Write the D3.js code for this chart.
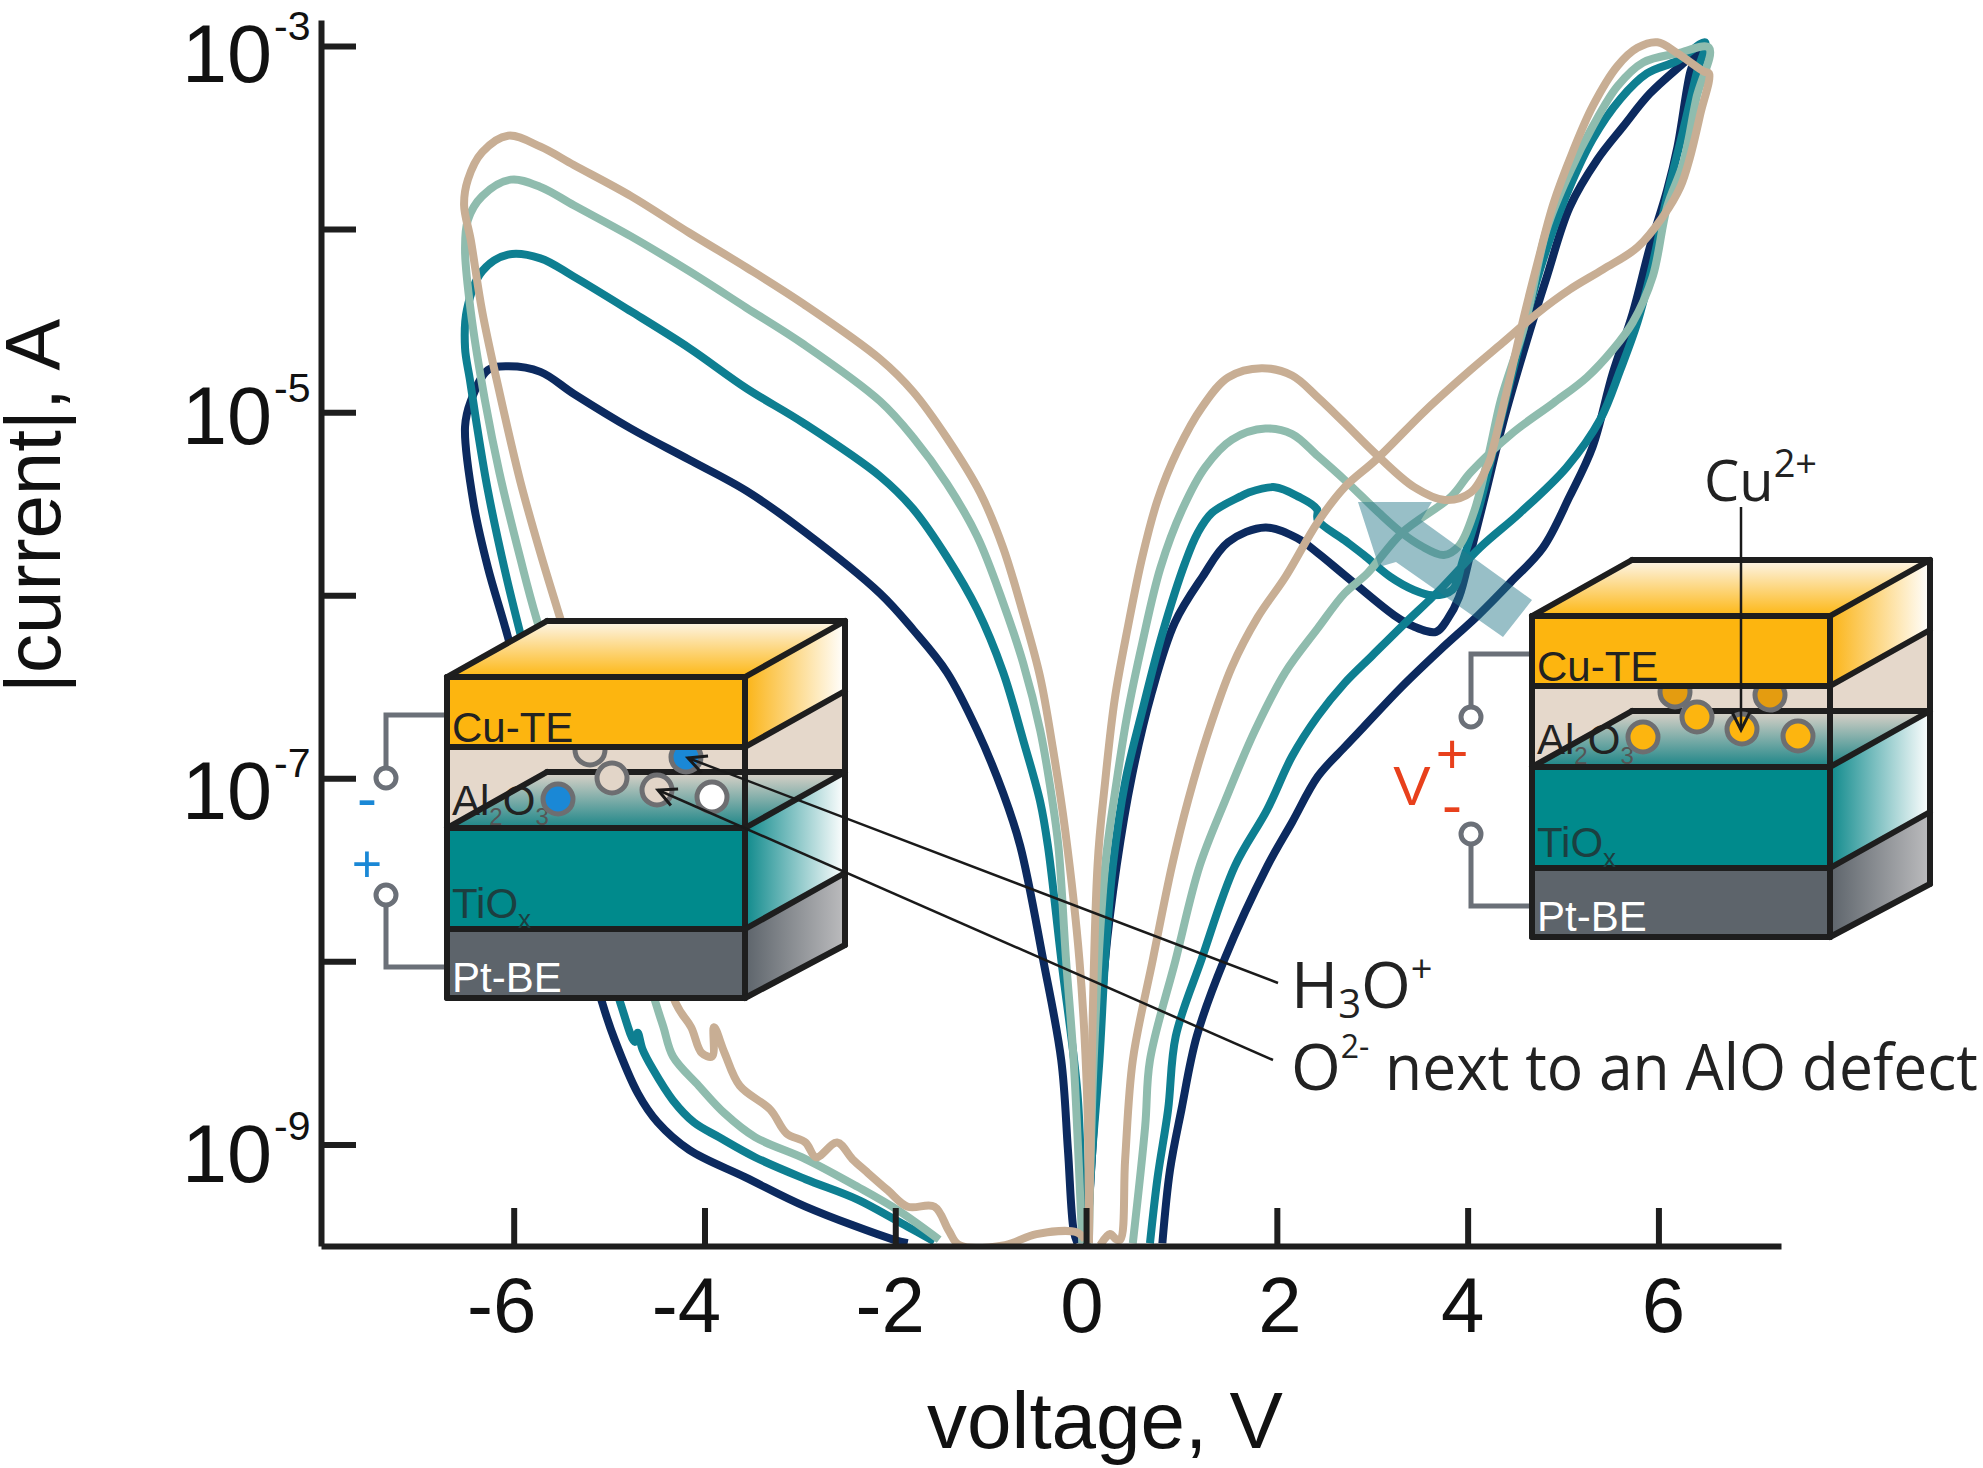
<!DOCTYPE html>
<html>
<head>
<meta charset="utf-8">
<script src="https://cdn.jsdelivr.net/npm/d3@7"></script>
<style>
  body { margin: 0; background: #fff; }
  text { font-family: "Liberation Sans", Arial, sans-serif; }
  .label2 { font-family: "Open Sans", sans-serif; fill: #222; }
</style>
</head>
<body>
<div id="chart"></div>
<script>
// all curves: [voltage in V, log10 of |current| in A]
var navyLeft = [[-0.09,-9.54],[-0.13,-9.47],[-0.19,-9.03],[-0.26,-8.54],[-0.45,-7.99],[-0.69,-7.37],[-0.87,-7.08],[-1.14,-6.74],[-1.46,-6.42],[-1.81,-6.19],[-2.16,-5.99],[-2.96,-5.65],[-3.56,-5.43],[-4.16,-5.26],[-4.77,-5.09],[-5.37,-4.90],[-5.72,-4.78],[-6.06,-4.75],[-6.27,-4.77],[-6.45,-4.94],[-6.51,-5.08],[-6.42,-5.50],[-6.27,-5.85],[-6.06,-6.23],[-5.57,-7.23],[-5.07,-8.23],[-4.94,-8.43],[-4.70,-8.72],[-4.49,-8.88],[-4.16,-9.03],[-3.57,-9.18],[-2.94,-9.34],[-2.02,-9.52],[-1.87,-9.54]];
var navyRight = [[0.01,-9.54],[0.06,-9.08],[0.20,-7.99],[0.32,-7.48],[0.48,-6.99],[0.69,-6.53],[0.93,-6.15],[1.22,-5.90],[1.49,-5.71],[1.88,-5.63],[2.22,-5.69],[2.43,-5.77],[2.71,-5.89],[3.23,-6.11],[3.43,-6.17],[3.67,-6.20],[3.79,-6.13],[3.91,-6.01],[4.04,-5.75],[4.19,-5.44],[4.37,-5.06],[4.62,-4.61],[4.83,-4.26],[5.07,-3.88],[5.36,-3.62],[5.63,-3.44],[5.91,-3.26],[6.27,-3.09],[6.40,-3.03],[6.33,-3.15],[6.20,-3.55],[6.09,-3.79],[5.91,-4.10],[5.73,-4.46],[5.52,-4.79],[5.31,-5.19],[5.07,-5.46],[4.79,-5.74],[4.45,-5.93],[4.11,-6.11],[3.71,-6.30],[3.31,-6.50],[2.91,-6.72],[2.71,-6.83],[2.43,-6.99],[2.16,-7.24],[1.90,-7.48],[1.45,-7.99],[1.16,-8.41],[1.00,-8.81],[0.88,-9.14],[0.80,-9.54]];

var tealLeft = [[0.01,-9.54],[-0.02,-9.48],[-0.09,-8.72],[-0.26,-7.99],[-0.40,-7.37],[-0.48,-7.13],[-0.66,-6.79],[-0.87,-6.42],[-1.14,-6.08],[-1.46,-5.79],[-1.81,-5.53],[-2.16,-5.35],[-2.96,-5.06],[-3.56,-4.87],[-4.16,-4.65],[-4.77,-4.45],[-5.37,-4.26],[-5.72,-4.16],[-6.06,-4.14],[-6.33,-4.23],[-6.49,-4.44],[-6.51,-4.65],[-6.46,-4.82],[-6.39,-5.06],[-6.27,-5.43],[-6.09,-5.87],[-5.93,-6.21],[-5.41,-7.23],[-4.88,-8.23],[-4.73,-8.44],[-4.70,-8.39],[-4.65,-8.48],[-4.54,-8.59],[-4.33,-8.76],[-4.11,-8.88],[-3.85,-8.96],[-3.47,-9.07],[-2.94,-9.19],[-2.40,-9.30],[-1.87,-9.45],[-1.59,-9.53]];
var tealRight = [[0.01,-9.54],[0.06,-9.08],[0.14,-8.54],[0.20,-7.99],[0.28,-7.48],[0.41,-7.02],[0.59,-6.63],[0.80,-6.21],[1.04,-5.82],[1.17,-5.66],[1.32,-5.55],[1.62,-5.46],[1.70,-5.44],[1.98,-5.41],[2.22,-5.46],[2.42,-5.53],[2.43,-5.59],[2.71,-5.70],[2.91,-5.78],[3.19,-5.90],[3.43,-5.97],[3.63,-6.00],[3.84,-5.97],[3.95,-5.81],[4.11,-5.54],[4.31,-5.12],[4.53,-4.66],[4.76,-4.22],[5.00,-3.86],[5.31,-3.51],[5.60,-3.29],[5.88,-3.15],[6.20,-3.08],[6.49,-2.98],[6.40,-3.15],[6.26,-3.46],[6.09,-3.82],[5.94,-4.19],[5.78,-4.51],[5.60,-4.77],[5.39,-5.04],[5.04,-5.30],[4.55,-5.55],[4.13,-5.74],[3.71,-5.97],[3.31,-6.17],[3.00,-6.33],[2.71,-6.48],[2.43,-6.66],[2.16,-6.88],[1.90,-7.17],[1.56,-7.48],[1.21,-7.99],[0.94,-8.41],[0.86,-8.81],[0.75,-9.18],[0.67,-9.54]];

var foamLeft = [[-0.04,-9.54],[-0.06,-9.30],[-0.13,-8.54],[-0.21,-7.99],[-0.29,-7.37],[-0.36,-7.10],[-0.48,-6.74],[-0.66,-6.37],[-0.87,-6.04],[-1.14,-5.68],[-1.46,-5.39],[-1.81,-5.14],[-2.16,-4.94],[-2.96,-4.63],[-3.56,-4.43],[-4.16,-4.23],[-4.77,-4.04],[-5.37,-3.87],[-5.72,-3.77],[-6.03,-3.73],[-6.33,-3.82],[-6.48,-3.95],[-6.51,-4.11],[-6.45,-4.45],[-6.30,-4.94],[-6.15,-5.33],[-5.93,-5.80],[-5.76,-6.13],[-5.10,-7.20],[-4.51,-8.23],[-4.43,-8.36],[-4.33,-8.52],[-4.06,-8.68],[-3.79,-8.83],[-3.47,-8.96],[-2.94,-9.08],[-2.40,-9.23],[-1.97,-9.36],[-1.54,-9.52]];
var foamRight = [[0.03,-9.54],[0.08,-8.54],[0.20,-7.48],[0.32,-7.02],[0.43,-6.66],[0.59,-6.26],[0.78,-5.85],[1.01,-5.53],[1.25,-5.30],[1.53,-5.15],[1.88,-5.09],[2.16,-5.12],[2.43,-5.24],[2.71,-5.37],[3.07,-5.55],[3.31,-5.66],[3.51,-5.73],[3.75,-5.78],[3.91,-5.73],[4.07,-5.54],[4.23,-5.21],[4.35,-4.93],[4.60,-4.52],[4.83,-4.00],[5.07,-3.69],[5.31,-3.44],[5.57,-3.22],[5.84,-3.09],[6.20,-3.04],[6.53,-3.01],[6.40,-3.28],[6.26,-3.64],[6.09,-3.88],[5.94,-4.26],[5.73,-4.51],[5.52,-4.66],[5.25,-4.81],[4.90,-4.95],[4.48,-5.11],[4.03,-5.33],[3.83,-5.46],[3.31,-5.66],[2.95,-5.88],[2.71,-5.99],[2.43,-6.18],[2.09,-6.42],[1.77,-6.74],[1.46,-7.12],[1.19,-7.48],[0.94,-7.99],[0.67,-8.54],[0.62,-8.90],[0.49,-9.54]];

var tanLeft = [[0.03,-9.54],[0.01,-8.72],[-0.07,-7.99],[-0.22,-7.28],[-0.35,-6.83],[-0.48,-6.45],[-0.66,-6.10],[-0.87,-5.74],[-1.11,-5.44],[-1.46,-5.14],[-1.81,-4.89],[-2.16,-4.71],[-2.96,-4.41],[-3.56,-4.21],[-4.16,-4.02],[-4.77,-3.82],[-5.37,-3.65],[-5.72,-3.55],[-6.06,-3.49],[-6.33,-3.58],[-6.48,-3.73],[-6.52,-3.87],[-6.45,-4.06],[-6.33,-4.45],[-6.15,-4.89],[-5.93,-5.38],[-5.72,-5.77],[-5.51,-6.13],[-4.88,-7.20],[-4.30,-8.23],[-4.14,-8.36],[-4.03,-8.50],[-3.92,-8.52],[-3.90,-8.36],[-3.79,-8.50],[-3.63,-8.68],[-3.31,-8.81],[-3.14,-8.94],[-2.94,-8.99],[-2.83,-9.07],[-2.61,-8.99],[-2.45,-9.08],[-2.30,-9.15],[-2.08,-9.25],[-1.87,-9.34],[-1.59,-9.34],[-1.44,-9.47],[-1.33,-9.55],[-0.85,-9.55],[-0.52,-9.49],[-0.10,-9.48],[-0.01,-9.52]];
var tanRight = [[0.03,-9.54],[0.12,-7.48],[0.20,-7.02],[0.30,-6.57],[0.44,-6.17],[0.59,-5.79],[0.75,-5.48],[0.96,-5.21],[1.22,-4.97],[1.49,-4.81],[1.84,-4.76],[2.16,-4.80],[2.43,-4.92],[2.71,-5.06],[3.04,-5.23],[3.44,-5.41],[3.76,-5.48],[4.03,-5.44],[4.22,-5.28],[4.27,-5.19],[4.44,-4.82],[4.58,-4.50],[4.73,-4.19],[4.90,-3.86],[5.10,-3.58],[5.31,-3.33],[5.57,-3.11],[5.78,-3.01],[5.99,-2.98],[6.20,-3.04],[6.48,-3.14],[6.53,-3.15],[6.44,-3.37],[6.33,-3.61],[6.23,-3.77],[6.05,-3.93],[5.78,-4.10],[5.42,-4.22],[5.07,-4.33],[4.73,-4.46],[4.37,-4.62],[4.03,-4.77],[3.56,-4.99],[3.04,-5.26],[2.71,-5.41],[2.43,-5.60],[2.09,-5.90],[1.80,-6.12],[1.53,-6.39],[1.28,-6.75],[1.07,-7.12],[0.90,-7.48],[0.70,-7.99],[0.49,-8.54],[0.41,-9.08],[0.36,-9.52],[0.32,-9.52],[0.25,-9.49],[0.15,-9.55]];

var xTickValues = [-6, -4, -2, 0, 2, 4, 6];
var xTickLabels = ["-6", "-4", "-2", "0", "2", "4", "6"];
var yTickValues = [1e-3, 1e-4, 1e-5, 1e-6, 1e-7, 1e-8, 1e-9];
var yLabelValues = [1e-3, 1e-5, 1e-7, 1e-9];
var yLabelExponents = ["-3", "-5", "-7", "-9"];

var width = 1983, height = 1468;
var black = "#1e1e1e";
// the labels in the figure do not sit quite regular on their ticks
var xLabelShift = [-12, -18, -5, -4, 3, -5, 5];
var yLabelShift = [36, 32, 41, 38];

var svg = d3.select("#chart").append("svg")
    .attr("width", width)
    .attr("height", height)
    .style("display", "block");

svg.append("rect").attr("width", width).attr("height", height).attr("fill", "#fff");

var defs = svg.append("defs");

function gradient(id, x2, y2, stops) {
    var g = defs.append("linearGradient").attr("id", id)
        .attr("x1", 0).attr("y1", 0).attr("x2", x2).attr("y2", y2);
    stops.forEach(function (s) {
        g.append("stop").attr("offset", s[0]).attr("stop-color", s[1]);
    });
}
gradient("gradCuTop", 0, 1, [[0, "#fdf6ea"], [1, "#fdb714"]]);
gradient("gradCuSide", 1, 0, [[0, "#fbb416"], [1, "#ffffff"]]);
gradient("gradPlane", 0, 1, [[0, "#ddd3c9"], [1, "#1b8587"]]);
gradient("gradTiSide", 1, 0, [[0, "#0f8a8c"], [1, "#ffffff"]]);
gradient("gradPtSide", 1, 0, [[0, "#5d646b"], [1, "#bcbcbe"]]);

defs.append("clipPath").attr("id", "plotClip").append("rect")
    .attr("x", 321).attr("y", 0).attr("width", 1500).attr("height", 1246);

var arrowHead = defs.append("marker")
    .attr("id", "openArrow")
    .attr("viewBox", "-22 -12 26 24")
    .attr("refX", 0).attr("refY", 0)
    .attr("markerUnits", "userSpaceOnUse")
    .attr("markerWidth", 26).attr("markerHeight", 24)
    .attr("orient", "auto");
arrowHead.append("path")
    .attr("d", "M-18,-9L0,0L-18,9")
    .attr("fill", "none").attr("stroke", "#1a1a1a").attr("stroke-width", 3);

// scales
var x = d3.scaleLinear().domain([-8.02, 7.285]).range([321, 1781]);
var y = d3.scaleLog().domain([Math.pow(10, -9.555), Math.pow(10, -2.858)]).range([1246, 20]);

// curves, darkest first
var line = d3.line()
    .x(function (d) { return x(d[0]); })
    .y(function (d) { return y(Math.pow(10, d[1])); })
    .curve(d3.curveCatmullRom.alpha(0.5));

var curves = svg.append("g").attr("clip-path", "url(#plotClip)");
var seriesList = [
    [navyLeft, "#0c2a5f"], [navyRight, "#0c2a5f"],
    [tealLeft, "#0e7f91"], [tealRight, "#0e7f91"],
    [foamLeft, "#8fbcae"], [foamRight, "#8fbcae"],
    [tanLeft, "#c8ae94"], [tanRight, "#c8ae94"]
];
seriesList.forEach(function (s) {
    curves.append("path")
        .datum(s[0])
        .attr("d", line)
        .attr("fill", "none")
        .attr("stroke", s[1])
        .attr("stroke-width", 8)
        .attr("stroke-linejoin", "round");
});

// big translucent arrow across the dip
svg.append("polygon")
    .attr("points", "1358,502 1432,502 1421,520 1532,600 1503,637 1396,562 1379,567")
    .attr("fill", "#27798a")
    .attr("fill-opacity", 0.48);

// axes
var xAxis = svg.append("g")
    .attr("transform", "translate(0,1246)")
    .call(d3.axisBottom(x).tickValues(xTickValues).tickSize(-38).tickSizeOuter(0).tickFormat(""));
var yAxis = svg.append("g")
    .attr("transform", "translate(321,0)")
    .call(d3.axisRight(y).tickValues(yTickValues).tickSize(35).tickSizeOuter(0).tickFormat(""));
[xAxis, yAxis].forEach(function (a) {
    a.selectAll("path").attr("stroke", black).attr("stroke-width", 6);
    a.selectAll("line").attr("stroke", black).attr("stroke-width", 6);
});

// x tick labels
xTickValues.forEach(function (v, i) {
    svg.append("text")
        .attr("x", x(v) + xLabelShift[i])
        .attr("y", 1332)
        .attr("text-anchor", "middle")
        .attr("font-size", 78)
        .attr("fill", "#111")
        .text(xTickLabels[i]);
});

// y tick labels
yLabelValues.forEach(function (v, i) {
    var t = svg.append("text")
        .attr("x", 182)
        .attr("y", y(v) + yLabelShift[i])
        .attr("font-size", 81)
        .attr("fill", "#111");
    t.append("tspan").text("10");
    t.append("tspan").attr("font-size", 41).attr("dy", -42).attr("dx", 2).text(yLabelExponents[i]);
});

svg.append("text")
    .attr("transform", "translate(60,506) rotate(-90)")
    .attr("text-anchor", "middle")
    .attr("font-size", 78)
    .attr("fill", "#111")
    .text("|current|, A");

svg.append("text")
    .attr("x", 1105)
    .attr("y", 1448)
    .attr("text-anchor", "middle")
    .attr("font-size", 80)
    .attr("fill", "#111")
    .text("voltage, V");

// the little layer stack, drawn at x0,y0 (front top left corner)
function drawDevice(x0, y0, fills) {
    var g = svg.append("g").attr("transform", "translate(" + x0 + "," + y0 + ")");
    var w = 298, dx = 100, dy = -56;
    var yCu = 70, yAl = 151, yTi = 252, yPt = 321;

    function poly(points, fill) {
        return g.append("polygon").attr("points", points.join(" ")).attr("fill", fill);
    }
    function seg(x1, y1, x2, y2) {
        g.append("line").attr("x1", x1).attr("y1", y1).attr("x2", x2).attr("y2", y2)
            .attr("stroke", black).attr("stroke-width", 6).attr("stroke-linecap", "round");
    }

    // wires to the terminals
    var wire = "#6b7078";
    g.append("path").attr("d", "M0,38H-61V101").attr("fill", "none").attr("stroke", wire).attr("stroke-width", 5);
    g.append("path").attr("d", "M0,290H-61V218").attr("fill", "none").attr("stroke", wire).attr("stroke-width", 5);
    [101, 218].forEach(function (cy) {
        g.append("circle").attr("cx", -61).attr("cy", cy).attr("r", 10)
            .attr("fill", "#fff").attr("stroke", wire).attr("stroke-width", 5);
    });

    // front faces
    g.append("rect").attr("y", yCu).attr("width", w).attr("height", yAl - yCu).attr("fill", "#e5d8cb");
    g.append("rect").attr("y", yAl).attr("width", w).attr("height", yTi - yAl).attr("fill", "#008a8c");
    g.append("rect").attr("y", yTi).attr("width", w).attr("height", yPt - yTi).attr("fill", "#5d646b");

    // side faces
    poly([[w, 0], [w + dx, dy], [w + dx, yCu + dy], [w, yCu]], "url(#gradCuSide)");
    poly([[w, yCu], [w + dx, yCu + dy], [w + dx, yAl + dy], [w, yAl]], "#e5d8cb");
    poly([[w, yAl], [w + dx, yAl + dy], [w + dx, yTi + dy], [w, yTi]], "url(#gradTiSide)");
    poly([[w, yTi], [w + dx, yTi + dy], [w + dx, yPt + dy + 3], [w, yPt]], "url(#gradPtSide)");
    poly([[0, 0], [dx, dy], [w + dx, dy], [w, 0]], "url(#gradCuTop)");

    // sloped plane between Al2O3 and TiOx
    poly([[0, yAl], [dx, yAl + dy], [w + dx, yAl + dy], [w, yAl]], "url(#gradPlane)");
    seg(dx, yAl + dy, w + dx, yAl + dy);

    var al = g.append("text").attr("x", 5).attr("y", 138).attr("font-size", 42).attr("fill", "#222");
    al.append("tspan").text("Al");
    al.append("tspan").attr("font-size", 24).attr("dy", 10).attr("fill", "#555").text("2");
    al.append("tspan").attr("dy", -10).text("O");
    al.append("tspan").attr("font-size", 24).attr("dy", 10).attr("fill", "#555").text("3");
    seg(0, yAl, dx, yAl + dy);

    // ions
    fills.forEach(function (f) {
        g.append("circle").attr("cx", f[0]).attr("cy", f[1]).attr("r", 15)
            .attr("fill", f[2]).attr("stroke", "#6d6e71").attr("stroke-width", 5);
    });

    // Cu electrode goes over the two half hidden ions
    g.append("rect").attr("width", w).attr("height", yCu).attr("fill", "#fdb50f");

    // box outline
    seg(0, 0, w, 0); seg(0, yCu, w, yCu); seg(0, yAl, w, yAl); seg(0, yTi, w, yTi); seg(0, yPt, w, yPt);
    seg(0, 0, 0, yPt); seg(w, 0, w, yPt);
    seg(0, 0, dx, dy); seg(dx, dy, w + dx, dy); seg(w + dx, dy, w, 0);
    seg(w + dx, dy, w + dx, yPt + dy + 3);
    seg(w, yCu, w + dx, yCu + dy); seg(w, yAl, w + dx, yAl + dy);
    seg(w, yTi, w + dx, yTi + dy); seg(w, yPt, w + dx, yPt + dy + 3);

    g.append("text").attr("x", 5).attr("y", 65).attr("font-size", 42).attr("fill", "#222").text("Cu-TE");
    var ti = g.append("text").attr("x", 5).attr("y", 241).attr("font-size", 42).attr("fill", "#1c3f40");
    ti.append("tspan").text("TiO");
    ti.append("tspan").attr("font-size", 26).attr("dy", 10).text("x");
    g.append("text").attr("x", 5).attr("y", 315).attr("font-size", 42).attr("fill", "#fff").text("Pt-BE");
}

var tanFill = "#e2d5c8", blueFill = "#1a88d6", orangeFill = "#fdb50f", darkOrange = "#e49c10";
drawDevice(447, 677, [
    [143, 73, tanFill], [239, 80, blueFill],
    [111, 122, blueFill], [165, 101, tanFill], [210, 113, tanFill], [265, 120, "#fff"]
]);
drawDevice(1532, 616, [
    [143, 76, darkOrange], [238, 79, darkOrange],
    [111, 121, orangeFill], [165, 101, orangeFill], [210, 113, orangeFill], [266, 120, orangeFill]
]);

// polarity marks
function mark(txt, px, py, size, color) {
    svg.append("text").attr("x", px).attr("y", py)
        .attr("text-anchor", "middle").attr("font-size", size).attr("fill", color).text(txt);
}
mark("-", 367, 818, 60, "#1a88d6");
mark("+", 367, 882, 52, "#1a88d6");
mark("V", 1412, 805, 56, "#e8401c");
mark("+", 1452, 773, 56, "#e8401c");
mark("-", 1452, 825, 60, "#e8401c");

// leader lines
function leader(x1, y1, x2, y2) {
    svg.append("line").attr("x1", x1).attr("y1", y1).attr("x2", x2).attr("y2", y2)
        .attr("stroke", "#1a1a1a").attr("stroke-width", 2.5)
        .attr("marker-end", "url(#openArrow)");
}
leader(1278, 983, 688, 758);
leader(1273, 1060, 658, 790);
leader(1741, 507, 1741, 730);

// ion labels
var h3o = svg.append("text").attr("class", "label2").attr("x", 1291).attr("y", 1008).attr("font-size", 64);
h3o.append("tspan").text("H");
h3o.append("tspan").attr("font-size", 40).attr("dy", 10).text("3");
h3o.append("tspan").attr("dy", -10).text("O");
h3o.append("tspan").attr("font-size", 38).attr("dy", -26).text("+");

var o2 = svg.append("text").attr("class", "label2").attr("x", 1291).attr("y", 1090).attr("font-size", 64);
o2.append("tspan").text("O");
o2.append("tspan").attr("font-size", 32).attr("dy", -32).text("2-");

// the original face is narrower than Open Sans, squeeze to the same length
var nextTo = svg.append("text").attr("class", "label2")
    .attr("font-size", 64)
    .text("next to an AlO defect");
var squeeze = 593 / nextTo.node().getComputedTextLength();
nextTo.attr("transform", "translate(1385,1090) scale(" + squeeze + ",1)");

var cu = svg.append("text").attr("class", "label2").attr("x", 1704).attr("y", 501).attr("font-size", 56);
cu.append("tspan").text("Cu");
cu.append("tspan").attr("font-size", 38).attr("dy", -24).text("2+");
</script>
</body>
</html>
